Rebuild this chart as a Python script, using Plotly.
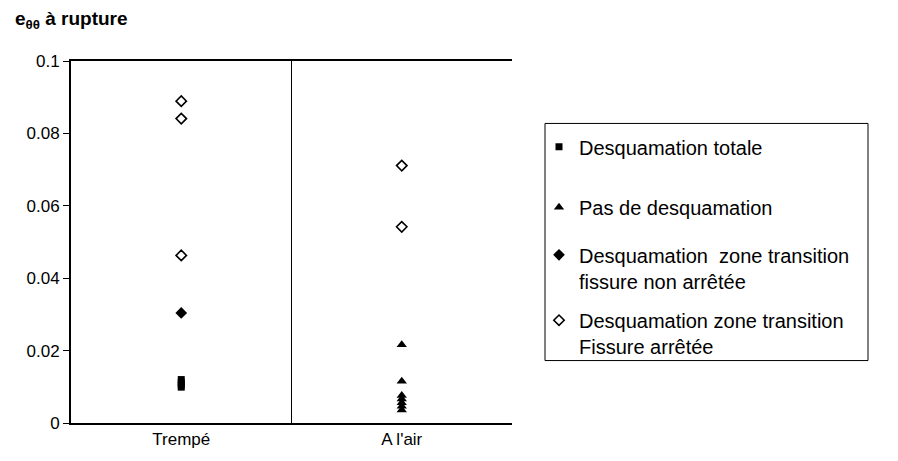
import plotly.graph_objects as go

categories = ["Trempé", "A l'air"]

# Desquamation totale (Trempé)
sq_x = ["Trempé", "Trempé", "Trempé", "Trempé"]
sq_y = [0.0120, 0.0112, 0.0105, 0.0099]

# Pas de desquamation (A l'air)
tri_x = ["A l'air"] * 7
tri_y = [0.0216, 0.0115, 0.0076, 0.0066, 0.0056, 0.0046, 0.0036]

# Desquamation zone transition, fissure non arrêtée
fd_x = ["Trempé"]
fd_y = [0.0304]

# Desquamation zone transition, Fissure arrêtée
od_x = ["Trempé", "Trempé", "Trempé", "A l'air", "A l'air"]
od_y = [0.0889, 0.0841, 0.0463, 0.0711, 0.0542]

names = [
    "Desquamation totale",
    "Pas de desquamation",
    "Desquamation  zone transition<br>fissure non arrêtée",
    "Desquamation zone transition<br>Fissure arrêtée",
]
yticks = [0, 0.02, 0.04, 0.06, 0.08, 0.1]
ytick_text = ["0", "0.02", "0.04", "0.06", "0.08", "0.1"]

FONT = "Arial, Liberation Sans, sans-serif"
W, H = 898, 461
L, R, T, B = 71, 512, 61, 432

def px_x(p):
    return (p - L) / (R - L)

def px_y(p):
    return (B - p) / (B - T)

fig = go.Figure()
fig.add_trace(go.Scatter(x=sq_x, y=sq_y, mode="markers", name=names[0], legend="legend",
                         marker=dict(symbol="square", size=7, color="black")))
fig.add_trace(go.Scatter(x=tri_x, y=tri_y, mode="markers", name=names[1], legend="legend2",
                         marker=dict(symbol="triangle-up", size=9, color="black")))
fig.add_trace(go.Scatter(x=fd_x, y=fd_y, mode="markers", name=names[2], legend="legend3",
                         marker=dict(symbol="diamond", size=9, color="black")))
fig.add_trace(go.Scatter(x=od_x, y=od_y, mode="markers", name=names[3], legend="legend4",
                         marker=dict(symbol="diamond-open", size=8, color="black",
                                     line=dict(width=1.6, color="black"))))

legend_common = dict(xanchor="left", yanchor="middle", bgcolor="rgba(0,0,0,0)",
                     borderwidth=0, font=dict(family=FONT, size=20, color="black"),
                     valign="top")
lx = px_x(539)
fig.update_layout(
    legend=dict(x=lx, y=px_y(149), **legend_common),
    legend2=dict(x=lx, y=px_y(211), **legend_common),
    legend3=dict(x=lx, y=px_y(273), **legend_common),
    legend4=dict(x=lx, y=px_y(340), **legend_common),
)

# legend frame
fig.add_shape(type="rect", xref="paper", yref="paper",
              x0=px_x(545), x1=px_x(868), y0=px_y(368), y1=px_y(125),
              line=dict(color="black", width=1), fillcolor="rgba(0,0,0,0)", layer="below")
# category divider
fig.add_shape(type="line", xref="x", yref="paper", x0=0.5, x1=0.5, y0=0, y1=1,
              line=dict(color="black", width=1))

fig.add_annotation(text="<b>e<sub>θθ</sub> à rupture</b>", xref="paper", yref="paper",
                   x=px_x(13), y=px_y(19), xanchor="left", yanchor="middle",
                   showarrow=False, font=dict(family=FONT, size=19, color="black"))

fig.update_layout(
    width=W, height=H,
    margin=dict(l=L, r=W - R, t=T, b=H - B, pad=0),
    paper_bgcolor="white", plot_bgcolor="white",
    showlegend=True,
    font=dict(family=FONT, size=17, color="black"),
    xaxis=dict(type="category", categoryorder="array", categoryarray=categories,
               range=[-0.5, 1.5], showgrid=False, zeroline=False,
               showline=True, linecolor="black", linewidth=2, mirror=True,
               ticks="", tickfont=dict(family=FONT, size=17, color="black")),
    yaxis=dict(range=[0, 0.1], tickvals=yticks, ticktext=ytick_text,
               showgrid=False, zeroline=False, showline=True, linecolor="black",
               linewidth=2, ticks="outside", ticklen=6, tickcolor="black", tickwidth=1,
               tickfont=dict(family=FONT, size=17, color="black")),
)

fig.write_html("out.html", config={"displayModeBar": False},
               post_script="document.body.style.margin='0';")
